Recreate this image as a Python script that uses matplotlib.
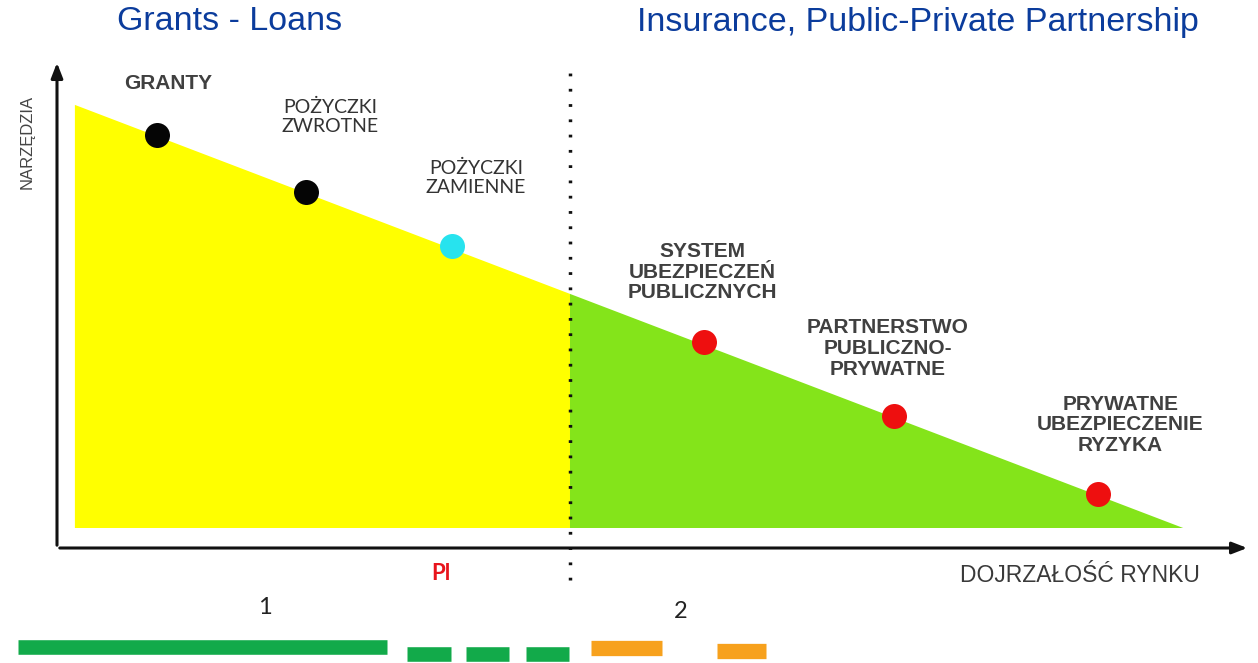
import matplotlib.pyplot as plt
from matplotlib.patches import Polygon

# --- data (maturity 0..100 along x, tool level 0..100 along y) ---
edge_top = (1.5, 90.8)       # top-left of the sloped edge
edge_bottom = (94.4, 4.1)    # bottom-right end of the sloped edge
base_level = 4.1
divide_at = 43.0

tools = ["GRANTY", "POŻYCZKI\nZWROTNE", "POŻYCZKI\nZAMIENNE",
         "SYSTEM\nUBEZPIECZEŃ\nPUBLICZNYCH", "PARTNERSTWO\nPUBLICZNO-\nPRYWATNE",
         "PRYWATNE\nUBEZPIECZENIE\nRYZYKA"]
maturity = [8.4, 20.9, 33.1, 54.2, 70.2, 87.3]
level = [84.6, 72.9, 61.9, 42.2, 27.0, 11.1]
dot_colors = ["#050505", "#050505", "#27e3ee", "#ee0f0f", "#ee0f0f", "#ee0f0f"]

# bottom strip segments (maturity units)
green_segs = [(-3.3, 27.7), (29.3, 33.0), (34.3, 37.9), (39.3, 42.9)]
orange_segs = [(44.8, 50.7), (55.3, 59.4)]

W, H = 1258, 663
fig = plt.figure(figsize=(W / 100, H / 100), dpi=100)
ax = fig.add_axes([57 / W, (H - 548) / H, (1250 - 57) / W, (548 - 60) / H])
ax.set_xlim(0, 100)
ax.set_ylim(0, 100)
ax.axis("off")

# slope value at divider (from the two edge ends)
t = (divide_at - edge_top[0]) / (edge_bottom[0] - edge_top[0])
y_div = edge_top[1] + t * (edge_bottom[1] - edge_top[1])

ax.add_patch(Polygon([(edge_top[0], base_level), edge_top, (divide_at, y_div),
                      (divide_at, base_level)], closed=True, fc="#ffff00", ec="none"))
ax.add_patch(Polygon([(divide_at, base_level), (divide_at, y_div), edge_bottom],
                     closed=True, fc="#84e41a", ec="none"))

# axes arrows
arrow = dict(arrowstyle="-|>,head_length=0.9,head_width=0.35", color="#111111", lw=2.2)
ax.annotate("", xy=(100, 0), xytext=(0, 0), arrowprops=arrow, annotation_clip=False)
ax.annotate("", xy=(0, 100), xytext=(0, 0), arrowprops=arrow, annotation_clip=False)

# dotted divider
ax.plot([divide_at, divide_at], [-6.5, 98], color="#111111", lw=2.5,
        linestyle=(0, (0.8, 3.6)), clip_on=False)

for m, v, c in zip(maturity, level, dot_colors):
    ax.plot(m, v, "o", ms=18, color=c, mec="none", zorder=5)

# labels, offsets in pixels relative to each dot
offsets = [(11, 52), (24, 75), (24, 68), (-1, 70), (-7, 68), (22, 69)]
calibri_like = [False, True, True, False, False, False]
for name, m, v, off, cal in zip(tools, maturity, level, offsets, calibri_like):
    if cal:
        kw = dict(family="Lato", fontsize=14, color="#333333", linespacing=1.15)
    else:
        kw = dict(family="Liberation Sans", fontsize=15, fontweight="bold",
                  color="#404040", linespacing=1.12)
    ax.annotate(name, (m, v), xytext=(off[0] * 0.72, off[1] * 0.72),
                textcoords="offset points", ha="center", va="center", **kw)

fig.text(27 / W, 1 - 142 / H, "NARZĘDZIA", rotation=90, ha="center", va="center",
         family="Liberation Sans", fontsize=12, color="#444444")
fig.text(1080 / W, 1 - 576 / H, "DOJRZAŁOŚĆ RYNKU", ha="center", va="center",
         family="Liberation Sans", fontsize=16.5, color="#3a3a3a")
fig.text(230 / W, 1 - 22 / H, "Grants - Loans", ha="center", va="center",
         family="Liberation Sans", fontsize=24.5, color="#0b3c9c")
fig.text(918 / W, 1 - 22 / H, "Insurance, Public-Private Partnership", ha="center",
         va="center", family="Liberation Sans", fontsize=24.5, color="#0b3c9c")
fig.text(441 / W, 1 - 573 / H, "Pl", ha="center", va="center", family="Lato",
         fontsize=16, fontweight="bold", color="#e8141c")
fig.text(265 / W, 1 - 607 / H, "1", ha="center", va="center", family="Lato",
         fontsize=17, color="#222222")
fig.text(681 / W, 1 - 611 / H, "2", ha="center", va="center", family="Lato",
         fontsize=17, color="#222222")

# bottom strip
for i, (a, b) in enumerate(green_segs):
    y = 647 if i == 0 else 654
    ax.plot([a, b], [-(y - 548) / 4.88] * 2, color="#12aa4a", lw=10.5,
            solid_capstyle="butt", clip_on=False)
for i, (a, b) in enumerate(orange_segs):
    y = 648 if i == 0 else 651
    ax.plot([a, b], [-(y - 548) / 4.88] * 2, color="#f7a11d", lw=11,
            solid_capstyle="butt", clip_on=False)

fig.savefig("out.png", dpi=100)
